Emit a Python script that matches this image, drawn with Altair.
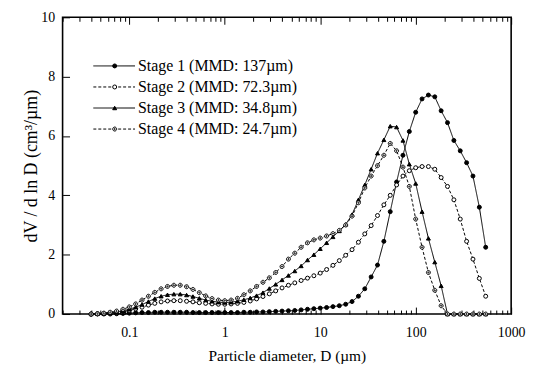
import altair as alt
import pandas as pd

# Particle diameter grid (um), shared by all series
diameter = [0.0398, 0.0464, 0.0541, 0.0631, 0.0736, 0.0858,
            0.1, 0.1166, 0.1359, 0.1585, 0.1848, 0.2154, 0.2512, 0.2929, 0.3415, 0.3981,
            0.4642, 0.5412, 0.631, 0.7356, 0.8577,
            1.0, 1.166, 1.359, 1.585, 1.848, 2.154, 2.512, 2.929, 3.415, 3.981,
            4.642, 5.412, 6.31, 7.356, 8.577,
            10.0, 11.66, 13.59, 15.85, 18.48, 21.54, 25.12, 29.29, 34.15, 39.81,
            46.42, 54.12, 63.1, 73.56, 85.77,
            100.0, 116.6, 135.9, 158.5, 184.8, 215.4, 251.2, 292.9, 341.5, 398.1,
            464.2, 541.2]

stage_1 = [0, 0, 0, 0, 0.01, 0.02,
           0.03, 0.04, 0.05, 0.05, 0.06, 0.06, 0.06, 0.06, 0.06, 0.06, 0.05, 0.05, 0.05, 0.05, 0.05,
           0.05, 0.05, 0.05, 0.06, 0.06, 0.07, 0.07, 0.08, 0.09, 0.10, 0.11, 0.12, 0.14, 0.16, 0.18,
           0.20, 0.22, 0.25, 0.28, 0.33, 0.42, 0.60, 0.85, 1.25, 1.65, 2.45, 3.45, 4.45, 5.35, 6.15,
           6.80, 7.25, 7.38, 7.32, 6.85, 6.45, 5.85, 5.50, 5.10, 4.65, 3.60, 2.25]

stage_2 = [0, 0.01, 0.02, 0.03, 0.05, 0.08,
           0.12, 0.17, 0.23, 0.30, 0.36, 0.41, 0.44, 0.45, 0.45, 0.43, 0.41, 0.38, 0.36, 0.34, 0.33,
           0.33, 0.34, 0.36, 0.39, 0.44, 0.51, 0.59, 0.68, 0.78, 0.88, 0.97, 1.05, 1.13, 1.21, 1.29,
           1.38, 1.50, 1.64, 1.80, 1.98, 2.17, 2.42, 2.70, 2.98, 3.32, 3.68, 4.00, 4.35, 4.65, 4.83,
           4.93, 4.97, 4.97, 4.88, 4.60, 4.30, 3.85, 3.20, 2.45, 1.85, 1.20, 0.60]

stage_3 = [0, 0.01, 0.02, 0.04, 0.07, 0.11,
           0.16, 0.23, 0.32, 0.42, 0.52, 0.60, 0.65, 0.67, 0.67, 0.64, 0.59, 0.53, 0.47, 0.43, 0.40,
           0.39, 0.40, 0.43, 0.48, 0.54, 0.62, 0.72, 0.86, 1.00, 1.15, 1.30, 1.45, 1.62, 1.82, 2.00,
           2.20, 2.40, 2.60, 2.80, 3.02, 3.35, 3.85, 4.35, 4.88, 5.42, 5.87, 6.33, 6.30, 5.85, 5.05,
           4.40, 3.45, 2.55, 1.75, 0.95, 0, 0, 0, 0, 0, 0, 0]

stage_4 = [0, 0.01, 0.03, 0.06, 0.10, 0.16,
           0.24, 0.34, 0.47, 0.60, 0.73, 0.85, 0.93, 0.97, 0.97, 0.92, 0.83, 0.72, 0.61, 0.52, 0.47,
           0.45, 0.47, 0.53, 0.65, 0.78, 0.93, 1.07, 1.22, 1.40, 1.60, 1.85, 2.05, 2.25, 2.40, 2.50,
           2.56, 2.63, 2.71, 2.82, 3.00, 3.30, 3.75, 4.25, 4.65, 5.00, 5.35, 5.75, 5.50, 4.95, 4.30,
           3.20, 2.25, 1.40, 0.80, 0.28, 0, 0, 0, 0, 0, 0, 0]

series_names = ["Stage 1 (MMD: 137µm)", "Stage 2 (MMD: 72.3µm)",
                "Stage 3 (MMD: 34.8µm)", "Stage 4 (MMD: 24.7µm)"]
marker_codes = ["m1", "m2", "m3", "m4"]

x_label_values = [0.1, 1, 10, 100, 1000]
x_tick_values = [0.02, 0.03, 0.04, 0.05, 0.06, 0.07, 0.08, 0.09,
                 0.1, 0.2, 0.3, 0.4, 0.5, 0.6, 0.7, 0.8, 0.9,
                 1, 2, 3, 4, 5, 6, 7, 8, 9,
                 10, 20, 30, 40, 50, 60, 70, 80, 90,
                 100, 200, 300, 400, 500, 600, 700, 800, 900, 1000]
y_tick_values = [0, 2, 4, 6, 8, 10]

rows = []
for name, code, vals in zip(series_names, marker_codes,
                            [stage_1, stage_2, stage_3, stage_4]):
    for d, v in zip(diameter, vals):
        rows.append({"D": d, "V": v, "Stage": name, "Marker": code})
df = pd.DataFrame(rows)

W, H = 452, 299
FONT = "Liberation Serif"
xscale = alt.Scale(type="log", domain=[0.02, 1000], nice=False)
yscale = alt.Scale(domain=[0, 10], nice=False, zero=True)
major_test = "indexof([0.1, 1, 10, 100, 1000], datum.value) >= 0"
x_tick_size = {"condition": {"test": major_test, "value": 7}, "value": 4}

ring_dot = ("M-1,0A1,1,0,1,1,1,0A1,1,0,1,1,-1,0Z"
            "M-0.3,0A0.3,0.3,0,1,1,0.3,0A0.3,0.3,0,1,1,-0.3,0Z")

legend_common = dict(title=None, orient="none", legendY=41, padding=0,
                     labelFont=FONT, labelFontSize=16, labelColor="black",
                     rowPadding=5.2, labelLimit=400)

legend_lines = alt.Legend(legendX=44, symbolType="M-7,0L7,0", symbolSize=36,
                          symbolStrokeColor="black", symbolStrokeWidth=1,
                          labelOffset=16, **legend_common)
legend_marks = alt.Legend(legendX=44.5, symbolSize=16, symbolStrokeColor="black",
                          symbolStrokeWidth=1, labelExpr="''", labelOffset=16,
                          **legend_common)

lines = alt.Chart(df).mark_line(color="black", strokeWidth=1).encode(
    x=alt.X("D:Q", scale=xscale,
            axis=alt.Axis(orient="bottom", values=x_label_values,
                          labelExpr="datum.value >= 1 ? format(datum.value, 'd') : format(datum.value, '.1f')",
                          tickSize=0, domain=False, grid=False, labelPadding=12,
                          labelFlush=False,
                          labelFont=FONT, labelFontSize=14, labelColor="black",
                          title="Particle diameter, D (µm)", titleFont=FONT,
                          titleFontSize=15.5, titleFontWeight="normal",
                          titleColor="black", titlePadding=9)),
    y=alt.Y("V:Q", scale=yscale,
            axis=alt.Axis(orient="left", values=y_tick_values, tickSize=0,
                          domain=False, grid=False, labelPadding=8,
                          labelFont=FONT, labelFontSize=14, labelColor="black",
                          title="dV / d ln D (cm³/µm)", titleFont=FONT,
                          titleFontSize=18, titleFontWeight="normal",
                          titleColor="black", titlePadding=0)),
    strokeDash=alt.StrokeDash("Stage:N",
                              scale=alt.Scale(domain=series_names,
                                              range=[[1, 0], [3, 2], [1, 0], [3, 2]]),
                              legend=legend_lines),
)

points = alt.Chart(df).mark_point(strokeWidth=1, size=16, opacity=1).encode(
    x=alt.X("D:Q", scale=xscale,
            axis=alt.Axis(orient="top", offset=-H, values=x_tick_values,
                          labels=False, domain=False, grid=False, title=None,
                          tickSize=x_tick_size, tickColor="black", tickWidth=1)),
    y=alt.Y("V:Q", scale=yscale,
            axis=alt.Axis(orient="right", offset=-W, values=y_tick_values,
                          labels=False, domain=False, grid=False, title=None,
                          tickSize=7, tickColor="black", tickWidth=1)),
    shape=alt.Shape("Marker:N",
                    scale=alt.Scale(domain=marker_codes,
                                    range=["circle", "circle", "triangle-up", ring_dot]),
                    legend=legend_marks),
    fill=alt.Fill("Marker:N",
                  scale=alt.Scale(domain=marker_codes,
                                  range=["black", "white", "black", "white"]),
                  legend=legend_marks),
    stroke=alt.Stroke("Marker:N",
                      scale=alt.Scale(domain=marker_codes,
                                      range=["black", "black", "black", "black"]),
                      legend=legend_marks),
)

top_ticks = alt.Chart(df).mark_point(opacity=0).encode(
    x=alt.X("D:Q", scale=xscale,
            axis=alt.Axis(orient="bottom", offset=-H, values=x_tick_values,
                          labels=False, domain=False, grid=False, title=None,
                          tickSize=x_tick_size, tickColor="black", tickWidth=1)),
    y=alt.Y("V:Q", scale=yscale, axis=None),
)

chart = alt.layer(lines, points, top_ticks).resolve_axis(
    x="independent", y="independent"
).properties(
    width=W, height=H,
    autosize=alt.AutoSizeParams(type="none"),
    padding={"left": 55, "top": 8, "right": 20, "bottom": 52},
    background="white",
).configure_view(stroke="black", strokeWidth=1.6)

chart.save("out.html", embed_options={"renderer": "svg", "actions": False})
